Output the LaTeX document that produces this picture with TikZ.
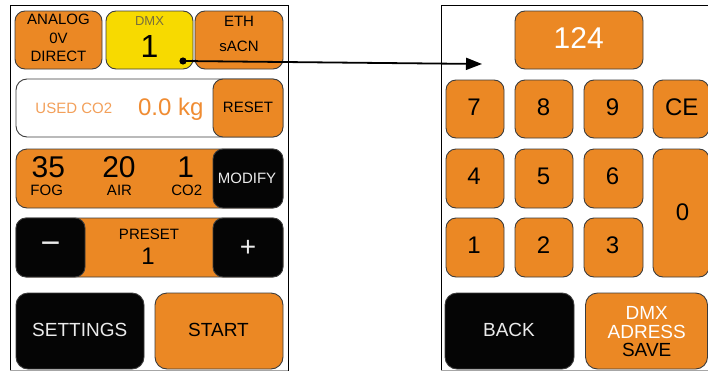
\documentclass[tikz,border=0pt]{standalone}
\usepackage{fontspec}
\setmainfont{Liberation Sans}
\usetikzlibrary{arrows.meta}
\definecolor{btnorange}{RGB}{235,136,36}
\definecolor{btnyellow}{RGB}{247,218,0}
\definecolor{btnblack}{RGB}{5,5,5}
\definecolor{edgegray}{RGB}{60,60,60}
\definecolor{lighttext}{RGB}{235,235,235}
\definecolor{orangetext}{RGB}{240,140,50}
\definecolor{paleorange}{RGB}{243,160,90}
\definecolor{dmxgray}{RGB}{120,110,60}
\newcommand{\fs}[1]{\fontsize{#1}{#1}\selectfont}
\begin{document}
\begin{tikzpicture}[x=1pt,y=-1pt,
  btn/.style={draw=edgegray, line width=0.9pt, rounded corners=10pt, inner sep=0pt, outer sep=0pt},
  obtn/.style={btn, fill=btnorange},
  kbtn/.style={btn, fill=btnblack},
  ybtn/.style={btn, fill=btnyellow},
  wbtn/.style={btn, fill=white},
  lbl/.style={inner sep=0pt, anchor=base, text=black},
  llbl/.style={lbl, text=lighttext},
  mid/.style={inner sep=0pt, anchor=center}]
\useasboundingbox (0,0) rectangle (708,372);
% frames
\draw[line width=0.8pt] (10,370.5) -- (10,5.5) -- (288,5.5) -- (288,370.5);
\draw[line width=0.8pt, gray!70] (10,370.5) -- (288,370.5);
\draw[line width=0.8pt] (441,370.5) -- (441,5.5) -- (712,5.5);
\draw[line width=0.8pt, gray!70] (441,370.5) -- (712,370.5);
% ---------- left panel ----------
\node[obtn, minimum width=87pt, minimum height=58pt] (analog) at (58.5,40) {};
\node[ybtn, minimum width=87pt, minimum height=58pt] (dmx) at (149.5,40) {};
\node[obtn, minimum width=88pt, minimum height=58pt] (eth) at (239,40) {};
\node[lbl, font=\fs{15}] (analogA) at (58.5,24.3) {ANALOG};
\node[lbl, font=\fs{15}] (analogB) at (58.5,43.3) {0V};
\node[lbl, font=\fs{15}] (analogC) at (58.5,61.7) {DIRECT};
\node[lbl, font=\fs{13}, text=dmxgray] (dmxA) at (149.5,25) {DMX};
\node[lbl, font=\fs{32}] (dmxB) at (149.5,57.3) {1};
\node[lbl, font=\fs{15}] (ethA) at (239,26) {ETH};
\node[lbl, font=\fs{15}] (ethB) at (239,51.7) {sACN};

\node[wbtn, rounded corners=11pt, minimum width=267pt, minimum height=58pt] (co2box) at (149.5,108) {};
\node[obtn, minimum width=70pt, minimum height=58pt] (reset) at (248,108) {};
\node[lbl, font=\fs{15}, text=paleorange] (usedA) at (73.8,113.3) {USED CO2};
\node[lbl, font=\fs{24}, text=orangetext] (usedB) at (170.8,115) {0.0 kg};
\node[lbl, font=\fs{15}] (resetA) at (248,112.7) {RESET};

\node[obtn, rounded corners=11pt, minimum width=267pt, minimum height=59pt] (fogbox) at (149.5,178.5) {};
\node[kbtn, minimum width=70pt, minimum height=59pt] (modify) at (248,178.5) {};
\node[lbl, font=\fs{30}] (fogN) at (48.3,177.7) {35};
\node[lbl, font=\fs{15}] (fogL) at (46.7,195.3) {FOG};
\node[lbl, font=\fs{30}] (airN) at (119,177.7) {20};
\node[lbl, font=\fs{15}] (airL) at (119.5,195.3) {AIR};
\node[lbl, font=\fs{30}] (co2N) at (185.8,177.7) {1};
\node[lbl, font=\fs{15}] (co2L) at (186.7,195.8) {CO2};
\node[llbl, font=\fs{15}] (modA) at (247,183.3) {MODIFY};

\node[obtn, rounded corners=11pt, minimum width=267pt, minimum height=59pt] (presetbox) at (149.5,247.5) {};
\node[kbtn, minimum width=69pt, minimum height=59pt] (minus) at (50.5,247.5) {};
\node[kbtn, minimum width=70pt, minimum height=59pt] (plus) at (248,247.5) {};
\node[lbl, font=\fs{15}] (presetA) at (149,239.3) {PRESET};
\node[lbl, font=\fs{24}] (presetB) at (148,264) {1};
\node[mid, font=\fs{34}, text=lighttext] (minusA) at (50.5,248) {−};
\node[mid, font=\fs{28}, text=lighttext] (plusA) at (248,248.3) {+};

\node[kbtn, rounded corners=12pt, minimum width=128pt, minimum height=76pt] (settings) at (80,331) {};
\node[obtn, rounded corners=12pt, minimum width=128pt, minimum height=76pt] (start) at (219,331) {};
\node[llbl, font=\fs{19}] (settingsA) at (79.7,336.7) {SETTINGS};
\node[lbl, font=\fs{19}] (startA) at (218.5,336.7) {START};

% ---------- right panel ----------
\node[obtn, minimum width=128pt, minimum height=58pt] (display) at (579,40) {};
\node[lbl, font=\fs{30}, text=white] (displayA) at (578.7,48.3) {124};

\node[obtn, minimum width=58pt, minimum height=58pt] (k7) at (475,109) {};
\node[obtn, minimum width=58pt, minimum height=58pt] (k8) at (544,109) {};
\node[obtn, minimum width=59pt, minimum height=58pt] (k9) at (613.5,109) {};
\node[obtn, minimum width=56pt, minimum height=58pt] (kce) at (681,109) {};
\node[obtn, minimum width=58pt, minimum height=59pt] (k4) at (475,178.5) {};
\node[obtn, minimum width=58pt, minimum height=59pt] (k5) at (544,178.5) {};
\node[obtn, minimum width=59pt, minimum height=59pt] (k6) at (613.5,178.5) {};
\node[obtn, minimum width=58pt, minimum height=59pt] (k1) at (475,247.5) {};
\node[obtn, minimum width=58pt, minimum height=59pt] (k2) at (544,247.5) {};
\node[obtn, minimum width=59pt, minimum height=59pt] (k3) at (613.5,247.5) {};
\node[obtn, minimum width=56pt, minimum height=128pt] (k0) at (681,213) {};
\node[lbl, font=\fs{24}] (k7A) at (474,115) {7};
\node[lbl, font=\fs{24}] (k8A) at (543.5,115) {8};
\node[lbl, font=\fs{24}] (k9A) at (612.5,115) {9};
\node[lbl, font=\fs{24}] (kceA) at (681.7,115) {CE};
\node[lbl, font=\fs{24}] (k4A) at (474,184.3) {4};
\node[lbl, font=\fs{24}] (k5A) at (543.5,184.3) {5};
\node[lbl, font=\fs{24}] (k6A) at (612.5,184.3) {6};
\node[lbl, font=\fs{24}] (k1A) at (474,253.3) {1};
\node[lbl, font=\fs{24}] (k2A) at (543.5,253.3) {2};
\node[lbl, font=\fs{24}] (k3A) at (612.5,253.3) {3};
\node[lbl, font=\fs{24}] (k0A) at (682.5,220) {0};

\node[kbtn, rounded corners=12pt, minimum width=129pt, minimum height=76pt] (back) at (509.5,331) {};
\node[obtn, rounded corners=12pt, minimum width=122pt, minimum height=76pt] (save) at (646.5,331) {};
\node[llbl, font=\fs{19}] (backA) at (509,336.7) {BACK};
\node[lbl, font=\fs{19}, text=white] (saveA) at (646.7,319.3) {DMX};
\node[lbl, font=\fs{19}, text=white] (saveB) at (646.7,338.3) {ADRESS};
\node[lbl, font=\fs{19}] (saveC) at (646.7,356) {SAVE};

% ---------- connector ----------
\coordinate (src) at (183,61);
\coordinate (dst) at (482,64);
\fill[black] (src) circle (3.6pt);
\draw[line width=1.8pt, -{Triangle[length=16pt,width=12pt]}] (src) -- (dst);
\end{tikzpicture}
\end{document}
